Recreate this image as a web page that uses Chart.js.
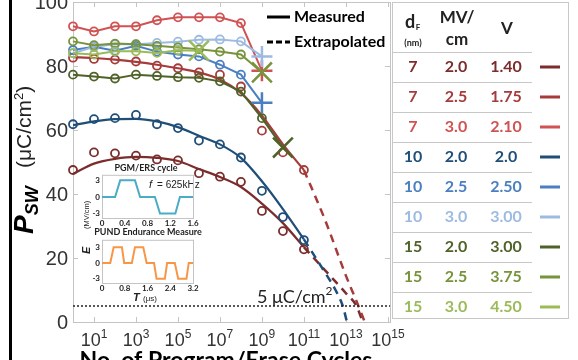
<!DOCTYPE html>
<html>
<head>
<meta charset="utf-8">
<script src="https://cdn.jsdelivr.net/npm/chart.js@4.4.1/dist/chart.umd.min.js"></script>
<style>
  html, body { margin: 0; padding: 0; background: #fff; }
  #wrap { position: relative; width: 578px; height: 360px; overflow: hidden; }
  #wrap canvas { position: absolute; }
</style>
</head>
<body>
<div id="wrap">
  <canvas id="mainChart" width="578" height="360" style="left:0;top:0"></canvas>
  <canvas id="pgmChart" width="126" height="62" style="left:76px;top:168px"></canvas>
  <canvas id="pundChart" width="126" height="62" style="left:76px;top:233px"></canvas>
</div>
<script>
// cycle counts of the measured points
var cycles = [1, 1e1, 1e2, 1e3, 1e4, 1e5, 1e6, 1e7, 1e8, 1e9, 1e10, 1e11];

// measured Psw (uC/cm2), one list per dF / field
var p7_20  = [47.5, 53.0, 52.7, 52.0, 50.8, 50.5, 46.5, 45.4, 43.8, 34.7, 28.4, 22.7];
var p7_25  = [82.6, 82.2, 82.0, 81.4, 80.1, 79.3, 78.0, 77.3, 73.6, 59.8, 53.0, 47.5];
var p7_30  = [92.4, 90.8, 92.4, 92.4, 94.3, 95.2, 95.2, 95.2, 93.4, 78.5];
var p10_20 = [61.8, 63.4, 63.7, 64.7, 61.8, 60.6, 56.7, 55.5, 51.4, 41.0, 32.8, 25.6];
var p10_25 = [85.0, 86.0, 84.8, 86.3, 84.5, 83.6, 83.0, 80.4, 77.3, 68.5];
var p10_30 = [84.0, 86.0, 86.8, 86.8, 87.2, 87.6, 88.2, 88.3, 87.7, 83.0];
var p15_20 = [77.3, 76.7, 76.1, 77.3, 76.9, 76.5, 76.3, 75.2, 72.0, 63.7, 54.5];
var p15_25 = [87.7, 86.5, 87.0, 86.8, 86.3, 85.8, 85.2, 84.5, 83.6, 78.0];
var p15_30 = [84.0, 83.6, 84.6, 84.6, 84.1, 84.9, 84.8];

// fitted curves (solid) read at the same cycles
var fit7_20  = [46.3, 49.5, 51.0, 51.6, 51.3, 50.3, 47.8, 45.3, 42.2, 37.0, 30.9, 23.4];
var fit7_25  = [82.8, 82.5, 82.0, 81.3, 80.4, 79.3, 78.0, 75.8, 71.5, 64.5, 55.5, 47.5];
var fit10_20 = [61.5, 62.7, 63.4, 63.5, 62.7, 60.9, 58.2, 55.5, 51.3, 44.0, 35.3, 25.8];

// extrapolated parts (dashed)
var extCycles7_20  = [1e11, 1e12, 1e13, 3.2e13, 6.3e13];
var ext7_20        = [23.4, 16.2, 9.0, 5.0, 0];
var extCycles7_25  = [1e11, 1e12, 1e13, 3.2e13, 7.9e13];
var ext7_25        = [47.5, 32.0, 14.5, 6.5, 0];
var extCycles10_20 = [1e11, 1e12, 3.2e12, 7.1e12, 1.12e13];
var ext10_20       = [25.8, 15.5, 10.0, 5.0, 0];

// 5 uC/cm2 limit
var limitCycles = [1, 1.26e15];
var limitValue = [5, 5];

// axis ticks
var yTicks = [0, 20, 40, 60, 80, 100];
var xTickCycles = [1e1, 1e3, 1e5, 1e7, 1e9, 1e11, 1e13, 1e15];
var xTickExp = ['1', '3', '5', '7', '9', '11', '13', '15'];

// legend table
var tableThick = ['7', '7', '7', '10', '10', '10', '15', '15', '15'];
var tableField = ['2.0', '2.5', '3.0', '2.0', '2.5', '3.0', '2.0', '2.5', '3.0'];
var tableVolt  = ['1.40', '1.75', '2.10', '2.0', '2.50', '3.00', '3.00', '3.75', '4.50'];

// inset waveforms
var pgmTime   = [0, 0.23, 0.32, 0.58, 0.67, 0.93, 1.02, 1.29, 1.37, 1.6];
var pgmField  = [0, 0, 3, 3, 0, 0, -3, -3, 0, 0];
var pgmTicks  = [0, 0.4, 0.8, 1.2, 1.6];
var pundTime  = [0, 0.29, 0.41, 0.70, 0.78, 1.05, 1.16, 1.45, 1.57, 1.83, 1.92, 2.21, 2.29, 2.56, 2.68, 2.97, 3.05, 3.2];
var pundField = [0, 0, 3, 3, 0, 0, 3, 3, 0, 0, -3, -3, 0, 0, -3, -3, 0, 0];
var pundTicks = [0, 0.8, 1.6, 2.4, 3.2];

var c7_20 = '#7b2c2c', c7_25 = '#a63b3b', c7_30 = '#d05252';
var c10_20 = '#1f4e79', c10_25 = '#4a7fc1', c10_30 = '#9dbbe0';
var c15_20 = '#4f6228', c15_25 = '#77933c', c15_30 = '#9bbb59';
var tableColor = [c7_20, c7_25, c7_30, c10_20, c10_25, c10_30, c15_20, c15_25, c15_30];

var SANS = '"Liberation Sans", Arial, sans-serif';
var CAL = 'Lato, "Open Sans", sans-serif';

function pts(xs, ys) {
    return ys.map(function (v, i) { return { x: xs[i], y: v }; });
}

function isLast(ctx) {
    return ctx.dataIndex === ctx.dataset.data.length - 1;
}

// measured points joined by lines, big cross at the last one
function polySeries(values, color, endStyle) {
    return {
        data: pts(cycles, values),
        borderColor: color,
        borderWidth: 2,
        backgroundColor: 'transparent',
        pointBackgroundColor: 'transparent',
        pointBorderColor: color,
        pointStyle: function (ctx) { return isLast(ctx) ? endStyle : 'circle'; },
        pointRadius: function (ctx) { return isLast(ctx) ? (endStyle === 'cross' ? 10.5 : 14) : 4; },
        pointBorderWidth: function (ctx) { return isLast(ctx) ? 2.5 : 1.8; },
        tension: 0,
        clip: false
    };
}

function circles(values, color) {
    return {
        data: pts(cycles, values),
        showLine: false,
        pointStyle: 'circle',
        pointRadius: 4,
        pointBorderWidth: 1.8,
        pointBorderColor: color,
        pointBackgroundColor: 'transparent',
        clip: false
    };
}

function fitLine(values, color) {
    return {
        data: pts(cycles, values),
        borderColor: color,
        borderWidth: 2.2,
        pointRadius: 0,
        cubicInterpolationMode: 'monotone'
    };
}

function extLine(xs, values, color) {
    return {
        data: pts(xs, values),
        borderColor: color,
        borderWidth: 2.5,
        borderDash: [8, 6],
        pointRadius: 0,
        cubicInterpolationMode: 'monotone'
    };
}

function supText(ctx, base, sup, x, y, baseFont, supFont, rise) {
    ctx.font = baseFont;
    ctx.fillText(base, x, y);
    var w = ctx.measureText(base).width;
    ctx.font = supFont;
    ctx.fillText(sup, x + w, y - rise);
    return w + ctx.measureText(sup).width;
}

var decor = {
    id: 'decor',
    beforeDraw: function (chart) {
        var ctx = chart.ctx;
        ctx.save();
        ctx.fillStyle = '#fff';
        ctx.fillRect(0, 0, chart.width, chart.height);
        ctx.restore();
    },
    beforeDatasetsDraw: function (chart) {
        var ctx = chart.ctx, a = chart.chartArea, xs = chart.scales.x, ys = chart.scales.y;
        ctx.save();
        ctx.strokeStyle = '#c4c4c4';
        ctx.lineWidth = 1;
        ctx.strokeRect(a.left + 0.5, a.top + 0.5, a.right - a.left, a.bottom - a.top);
        ctx.beginPath();
        yTicks.forEach(function (v) {
            var y = Math.round(ys.getPixelForValue(v)) + 0.5;
            ctx.moveTo(a.left, y); ctx.lineTo(a.left + 5, y);
            ctx.moveTo(a.right - 5, y); ctx.lineTo(a.right, y);
        });
        xTickCycles.forEach(function (v) {
            var x = Math.round(xs.getPixelForValue(v)) + 0.5;
            ctx.moveTo(x, a.bottom); ctx.lineTo(x, a.bottom - 5);
            ctx.moveTo(x, a.top); ctx.lineTo(x, a.top + 5);
        });
        ctx.stroke();
        ctx.restore();
    },
    afterDraw: function (chart) {
        var ctx = chart.ctx, xs = chart.scales.x, ys = chart.scales.y;
        ctx.save();

        // black bar on the left edge
        ctx.fillStyle = '#000';
        ctx.fillRect(9, 0, 3, 360);

        // y tick labels
        ctx.fillStyle = '#333';
        ctx.font = '20px ' + SANS;
        ctx.textAlign = 'right';
        ctx.textBaseline = 'middle';
        yTicks.forEach(function (v) {
            ctx.fillText(String(v), 68, ys.getPixelForValue(v) + 1);
        });

        // x tick labels 10^n
        ctx.textAlign = 'left';
        ctx.textBaseline = 'alphabetic';
        var bf = '18px ' + SANS, sf = '12px ' + SANS;
        xTickCycles.forEach(function (v, i) {
            ctx.font = bf;
            var wb = ctx.measureText('10').width;
            ctx.font = sf;
            var ws = ctx.measureText(xTickExp[i]).width;
            var x0 = xs.getPixelForValue(v) - (wb + ws) / 2;
            supText(ctx, '10', xTickExp[i], x0, 346, bf, sf, 8);
        });

        // x title (cut at the bottom)
        ctx.fillStyle = '#000';
        ctx.font = 'bold 23px ' + CAL;
        ctx.textAlign = 'center';
        ctx.fillText('No. of Program/Erase Cycles', 226, 368);

        // y title
        ctx.save();
        ctx.rotate(-Math.PI / 2);
        ctx.textAlign = 'left';
        ctx.font = 'italic bold 28px ' + SANS;
        ctx.fillText('P', -234, 33);
        var pw = ctx.measureText('P').width;
        ctx.font = 'italic bold 18px ' + SANS;
        ctx.fillText('SW', -234 + pw, 38);
        ctx.fillStyle = '#222';
        var w1 = supText(ctx, '(\u03bcC/cm', '2', -168, 31, '21px ' + SANS, '13px ' + SANS, 8);
        ctx.font = '21px ' + SANS;
        ctx.fillText(')', -168 + w1, 31);
        ctx.restore();

        // 5 uC/cm2 label
        ctx.fillStyle = '#222';
        ctx.textAlign = 'left';
        supText(ctx, '5 \u03bcC/cm', '2', 257, 303, '18px ' + CAL, '12px ' + CAL, 8);

        // measured / extrapolated key
        ctx.strokeStyle = '#000';
        ctx.lineWidth = 3;
        ctx.beginPath();
        ctx.moveTo(267, 17); ctx.lineTo(290, 17);
        ctx.stroke();
        ctx.setLineDash([6, 3]);
        ctx.beginPath();
        ctx.moveTo(267, 42); ctx.lineTo(290, 42);
        ctx.stroke();
        ctx.setLineDash([]);
        ctx.fillStyle = '#000';
        ctx.font = 'bold 16px ' + CAL;
        ctx.textBaseline = 'middle';
        ctx.fillText('Measured', 294, 17);
        ctx.fillText('Extrapolated', 294, 42);

        // legend table
        ctx.fillStyle = '#fff';
        ctx.fillRect(392, 0, 186, 319);
        ctx.strokeStyle = '#c8c8c8';
        ctx.lineWidth = 1;
        ctx.strokeRect(392.5, 2.5, 176, 316);
        ctx.beginPath();
        for (var r = 0; r < tableThick.length; r++) {
            var ly = 52.5 + r * 30;
            ctx.moveTo(393, ly); ctx.lineTo(532, ly);
        }
        ctx.stroke();

        ctx.textAlign = 'center';
        ctx.fillStyle = '#222';
        ctx.font = 'bold 18px ' + CAL;
        ctx.textBaseline = 'alphabetic';
        ctx.fillText('d', 410, 28);
        ctx.font = 'bold 8px ' + CAL;
        ctx.fillText('F', 418, 30);
        ctx.font = 'bold 9px ' + CAL;
        ctx.fillText('(nm)', 413, 46);
        ctx.font = 'bold 17px ' + CAL;
        ctx.fillText('MV/', 457, 23);
        ctx.fillText('cm', 457, 45);
        ctx.fillText('V', 507, 34);

        ctx.font = 'bold 16px ' + CAL;
        ctx.textBaseline = 'middle';
        for (var k = 0; k < tableThick.length; k++) {
            var ry = 67 + k * 30;
            ctx.fillStyle = tableColor[k];
            ctx.fillText(tableThick[k], 413, ry);
            ctx.fillText(tableField[k], 456, ry);
            ctx.fillText(tableVolt[k], 506, ry);
            ctx.fillRect(540, ry - 1.5, 20, 3);
        }

        // inset texts
        ctx.fillStyle = '#222';
        ctx.textAlign = 'center';
        ctx.font = 'bold 9px ' + CAL;
        ctx.fillText('PGM/ERS cycle', 146, 168);
        ctx.fillText('PUND Endurance Measure', 148, 232);
        ctx.textAlign = 'left';
        ctx.font = 'italic 11px ' + SANS;
        ctx.fillText('f', 149, 185);
        var fw = ctx.measureText('f ').width;
        ctx.font = '10px ' + SANS;
        ctx.fillText('= 625kHz', 149 + fw + 2, 185);

        ctx.font = 'bold italic 11px ' + SANS;
        ctx.fillText('T', 133, 298);
        ctx.font = '8px ' + SANS;
        ctx.fillText('(\u03bcs)', 143, 299);

        ctx.save();
        ctx.rotate(-Math.PI / 2);
        ctx.textBaseline = 'alphabetic';
        ctx.font = 'bold italic 11px ' + SANS;
        ctx.fillText('E', -254, 90);
        ctx.font = '7.5px ' + SANS;
        ctx.fillText('(MV/cm)', -229, 89);
        ctx.restore();

        ctx.restore();
    }
};

new Chart(document.getElementById('mainChart'), {
    type: 'line',
    data: {
        datasets: [
            {
                data: pts(limitCycles, limitValue),
                borderColor: '#222',
                borderWidth: 1.5,
                borderDash: [2, 2],
                pointRadius: 0
            },
            polySeries(p15_30, c15_30, 'crossRot'),
            polySeries(p15_25, c15_25, 'crossRot'),
            polySeries(p15_20, c15_20, 'crossRot'),
            polySeries(p10_30, c10_30, 'cross'),
            polySeries(p10_25, c10_25, 'cross'),
            polySeries(p7_30, c7_30, 'cross'),
            circles(p10_20, c10_20),
            fitLine(fit10_20, c10_20),
            extLine(extCycles10_20, ext10_20, c10_20),
            circles(p7_25, c7_25),
            fitLine(fit7_25, c7_25),
            extLine(extCycles7_25, ext7_25, c7_25),
            circles(p7_20, c7_20),
            fitLine(fit7_20, c7_20),
            extLine(extCycles7_20, ext7_20, c7_20)
        ]
    },
    options: {
        responsive: false,
        animation: false,
        events: [],
        layout: { autoPadding: false, padding: { left: 0, top: 2, right: 188, bottom: 0 } },
        plugins: { legend: { display: false }, tooltip: { enabled: false } },
        scales: {
            x: {
                type: 'logarithmic',
                min: 1,
                max: 1.26e15,
                ticks: { display: false },
                grid: { display: false, drawTicks: false },
                border: { display: false },
                afterFit: function (s) { s.height = 38; }
            },
            y: {
                min: 0,
                max: 100,
                ticks: { display: false },
                grid: { display: false, drawTicks: false },
                border: { display: false },
                afterFit: function (s) { s.width = 73; }
            }
        }
    },
    plugins: [decor]
});

var insetFrame = {
    id: 'insetFrame',
    beforeDatasetsDraw: function (chart) {
        var a = chart.chartArea, ctx = chart.ctx;
        ctx.save();
        ctx.strokeStyle = '#c4c4c4';
        ctx.lineWidth = 1;
        ctx.strokeRect(a.left + 0.5, a.top + 0.5, a.right - a.left, a.bottom - a.top);
        ctx.restore();
    }
};

function makeInset(id, t, e, color, xTicks, yMax) {
    return new Chart(document.getElementById(id), {
        type: 'line',
        data: {
            datasets: [{
                data: pts(t, e),
                borderColor: color,
                borderWidth: 2,
                pointRadius: 0,
                tension: 0
            }]
        },
        options: {
            responsive: false,
            animation: false,
            events: [],
            layout: { autoPadding: false, padding: { left: 0, right: 9, top: 5, bottom: 0 } },
            plugins: { legend: { display: false }, tooltip: { enabled: false } },
            scales: {
                x: {
                    type: 'linear',
                    min: 0,
                    max: xTicks[xTicks.length - 1],
                    afterBuildTicks: function (s) {
                        s.ticks = xTicks.map(function (v) { return { value: v }; });
                    },
                    afterFit: function (s) { s.height = 12; },
                    grid: { display: false, drawTicks: false },
                    border: { display: false },
                    ticks: {
                        autoSkip: false,
                        maxRotation: 0,
                        padding: 1,
                        color: '#222',
                        font: { size: 8, weight: 'bold', family: 'Lato' },
                        callback: function (v) { return v === 0 ? '0' : v.toFixed(1); }
                    }
                },
                y: {
                    min: -3.8,
                    max: yMax,
                    afterBuildTicks: function (s) {
                        s.ticks = [{ value: -3 }, { value: 0 }, { value: 3 }];
                    },
                    afterFit: function (s) { s.width = 26; },
                    grid: { display: false, drawTicks: false },
                    border: { display: false },
                    ticks: {
                        padding: 2,
                        color: '#222',
                        font: { size: 8, weight: 'bold', family: 'Lato' }
                    }
                }
            }
        },
        plugins: [insetFrame]
    });
}

makeInset('pgmChart', pgmTime, pgmField, '#4bacc6', pgmTicks, 4);
makeInset('pundChart', pundTime, pundField, '#f79646', pundTicks, 4.4);
</script>
</body>
</html>
